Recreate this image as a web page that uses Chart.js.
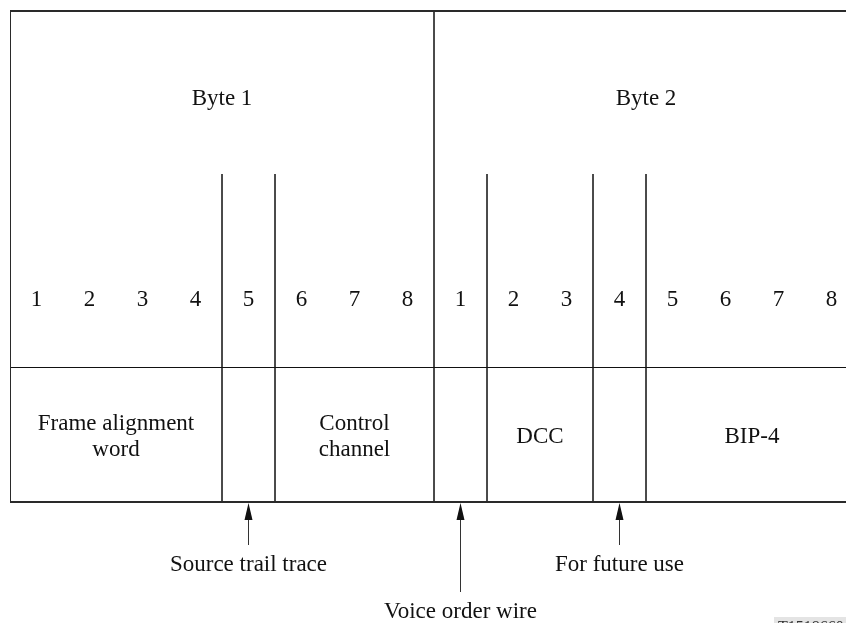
<!DOCTYPE html>
<html>
<head>
<meta charset="utf-8">
<script src="https://cdn.jsdelivr.net/npm/chart.js@4.4.1/dist/chart.umd.min.js"></script>
<style>
  html, body { margin: 0; padding: 0; background: #fff; overflow: hidden; }
  canvas { display: block; }
</style>
</head>
<body>
<canvas id="frame" width="870" height="623"></canvas>
<script>
// overhead bytes, bit numbering and the fields inside them
const byteLabels = ['Byte 1', 'Byte 2'];
const bitNumbers = ['1', '2', '3', '4', '5', '6', '7', '8', '1', '2', '3', '4', '5', '6', '7', '8'];
const fieldNames = ['Frame alignment\nword', '', 'Control\nchannel', '', 'DCC', '', 'BIP-4'];
const fieldBits = [4, 1, 3, 1, 2, 1, 4];

// single-bit fields pointed at from below
const markerBit = [5, 9, 12];
const markerLabels = ['Source trail trace', 'Voice order wire', 'For future use'];
const markerLong = [false, true, false];

// vertical layout (y units = rows of the drawing)
const Y = { top: 11, tick: 174, mid: 367.5, bottom: 502, byteText: 99, bitText: 300,
            arrowShort: 545, arrowLong: 592, labelShort: 565, labelLong: 612 };

const totalBits = bitNumbers.length;
const bounds = [];
fieldBits.reduce((acc, n) => { bounds.push(acc + n); return acc + n; }, 0);

const ink = '#1a1a1a';
const seg = (pts, w, c) => ({
    data: pts, showLine: true, borderColor: c || ink, borderWidth: w || 1,
    pointRadius: 0, fill: false
});

const datasets = [];
// outer frame
datasets.push(seg([{x: 0, y: Y.top}, {x: totalBits, y: Y.top}], 2, '#2a2a2a'));
datasets.push(seg([{x: 0, y: Y.bottom}, {x: totalBits, y: Y.bottom}], 2, '#2a2a2a'));
datasets.push(seg([{x: 0, y: Y.top}, {x: 0, y: Y.bottom}], 2, '#2a2a2a'));
datasets.push(seg([{x: totalBits, y: Y.top}, {x: totalBits, y: Y.bottom}], 2, '#2a2a2a'));
// row separator
datasets.push(seg([{x: 0, y: Y.mid}, {x: totalBits, y: Y.mid}], 1, '#111'));
// field dividers
bounds.forEach(b => {
    if (b >= totalBits) return;
    const fromY = (b % 8 === 0) ? Y.top : Y.tick;
    datasets.push(seg([{x: b, y: fromY}, {x: b, y: Y.bottom}], 1, '#333'));
});
// arrow shafts
markerBit.forEach((b, i) => {
    const cx = b - 0.5;
    datasets.push(seg([{x: cx, y: Y.bottom + 10}, {x: cx, y: markerLong[i] ? Y.arrowLong : Y.arrowShort}], 1, '#333'));
});

const labelsPlugin = {
    id: 'labels',
    afterDraw(chart) {
        const ctx = chart.ctx;
        const xs = chart.scales.x, ys = chart.scales.y;
        ctx.save();
        ctx.fillStyle = '#111';
        ctx.font = '23px "Liberation Serif", "Times New Roman", serif';
        ctx.textAlign = 'center';
        ctx.textBaseline = 'middle';

        byteLabels.forEach((t, i) => {
            ctx.fillText(t, xs.getPixelForValue(i * 8 + 4), ys.getPixelForValue(Y.byteText));
        });
        bitNumbers.forEach((t, i) => {
            ctx.fillText(t, xs.getPixelForValue(i + 0.5), ys.getPixelForValue(Y.bitText));
        });
        let start = 0;
        fieldNames.forEach((name, i) => {
            const cx = xs.getPixelForValue(start + fieldBits[i] / 2);
            const lines = name ? name.split('\n') : [];
            const cy = ys.getPixelForValue((Y.mid + Y.bottom) / 2) + 2;
            lines.forEach((ln, k) => ctx.fillText(ln, cx, cy + (k - (lines.length - 1) / 2) * 26));
            start += fieldBits[i];
        });

        markerBit.forEach((b, i) => {
            const cx = xs.getPixelForValue(b - 0.5);
            const tip = ys.getPixelForValue(Y.bottom) + 1;
            ctx.beginPath();
            ctx.moveTo(cx, tip);
            ctx.lineTo(cx - 4, tip + 17);
            ctx.lineTo(cx + 4, tip + 17);
            ctx.closePath();
            ctx.fill();
            const ly = ys.getPixelForValue(markerLong[i] ? Y.labelLong : Y.labelShort);
            ctx.fillText(markerLabels[i], cx, ly);
        });

        // figure reference tag, cut by the lower edge
        ctx.fillStyle = '#e4e4e4';
        ctx.fillRect(774, 617, 90, 10);
        ctx.fillStyle = '#333';
        ctx.textAlign = 'left';
        ctx.textBaseline = 'top';
        ctx.font = '16px "Liberation Serif", serif';
        ctx.fillText('T1518660-97', 778, 620);
        ctx.restore();
    }
};

new Chart(document.getElementById('frame'), {
    type: 'scatter',
    data: { datasets: datasets },
    options: {
        responsive: false,
        animation: false,
        layout: { padding: { left: 10, right: 12, top: 0, bottom: 0 } },
        plugins: { legend: { display: false }, tooltip: { enabled: false } },
        scales: {
            x: { type: 'linear', min: 0, max: totalBits, display: false },
            y: { type: 'linear', min: 0, max: 623, reverse: true, display: false }
        }
    },
    plugins: [labelsPlugin]
});
</script>
</body>
</html>
